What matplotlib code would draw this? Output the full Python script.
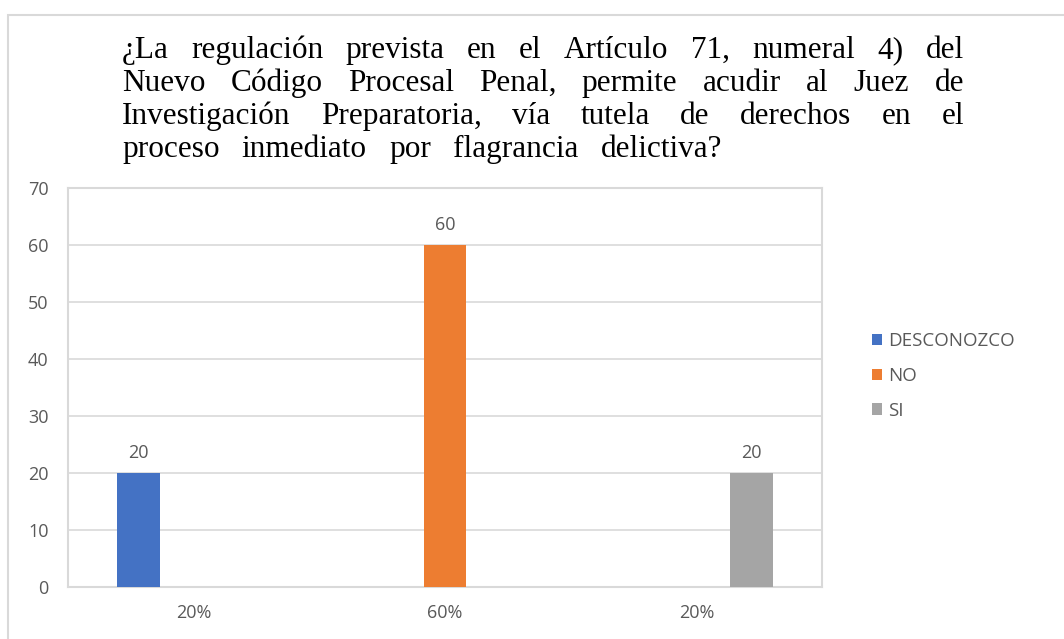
import matplotlib
matplotlib.use("Agg")
import matplotlib.pyplot as plt
import matplotlib.patches as mpatches
import numpy as np

# data
categories = ["20%", "60%", "20%"]
series_names = ["DESCONOZCO", "NO", "SI"]
desconozco = [20, 0, 0]
no_vals = [0, 60, 0]
si_vals = [0, 0, 20]
series_vals = [desconozco, no_vals, si_vals]
colors = ["#4472C4", "#ED7D31", "#A5A5A5"]

title_lines = [
    "¿La regulación prevista en el Artículo 71, numeral 4) del",
    "Nuevo Código Procesal Penal, permite acudir al Juez de",
    "Investigación Preparatoria, vía tutela de derechos en el",
    "proceso inmediato por flagrancia delictiva?",
]

W, H = 1064, 639
fig = plt.figure(figsize=(W / 100, H / 100), dpi=100)
fig.patch.set_facecolor("white")

# outer chart border (top + left visible)
fig.patches.append(mpatches.Rectangle((8 / W, -0.5), 2, 1 - 15 / H + 0.5,
                                      transform=fig.transFigure, fill=False,
                                      edgecolor="#d9d9d9", lw=1.5))

grid_c = "#d9d9d9"
txt_c = "#595959"
plt.rcParams["font.family"] = ["Open Sans", "DejaVu Sans"]

ax = fig.add_axes([68 / W, 1 - 587 / H, (822 - 68) / W, (587 - 188) / H])
x = np.arange(len(categories))
bw = 0.171
offs = [-0.219, 0.0, 0.219]
for vals, name, c, o in zip(series_vals, series_names, colors, offs):
    bars = ax.bar(x + o, vals, width=bw, color=c, label=name, lw=0, zorder=3)
    for b, v in zip(bars, vals):
        if v > 0:
            ax.annotate(f"{v}", (b.get_x() + b.get_width() / 2, v),
                        xytext=(0, 8), textcoords="offset points",
                        ha="center", va="bottom", fontsize=13, color=txt_c)

ax.set_xlim(-0.5, 2.5)
ax.set_ylim(0, 70)
ax.set_yticks(range(0, 71, 10))
ax.set_xticks(x)
ax.set_xticklabels(categories)
ax.tick_params(axis="both", length=0, labelsize=13, labelcolor=txt_c)
ax.tick_params(axis="y", pad=14)
ax.tick_params(axis="x", pad=12)
ax.grid(axis="y", color=grid_c, lw=1.2, zorder=0)
for s in ax.spines.values():
    s.set_color(grid_c)
    s.set_linewidth(1.5)

ax.legend(loc="upper left", bbox_to_anchor=(872 / W, 1 - 332 / H),
          bbox_transform=fig.transFigure, frameon=False, fontsize=13.5,
          handlelength=0.55, handleheight=0.55, handletextpad=0.3,
          labelspacing=0.9, borderpad=0, borderaxespad=0,
          labelcolor=txt_c)

# title, spread across the block width like the source document
serif = ["Liberation Serif", "DejaVu Serif"]
fsize = 22.5
left_px = 122
right_px = [964, 964, 964, 722]
baselines = [58, 91, 124, 157]
fig.canvas.draw()
rend = fig.canvas.get_renderer()
for i, line in enumerate(title_lines):
    yf = 1 - baselines[i] / H
    words = line.split(" ")
    arts = [fig.text(0, yf, w_, fontsize=fsize, family=serif, ha="left",
                     va="baseline", color="black") for w_ in words]
    widths = [a.get_window_extent(rend).width for a in arts]
    gap = (right_px[i] - left_px - sum(widths)) / (len(words) - 1)
    xp = left_px
    for a, wd in zip(arts, widths):
        a.set_x(xp / W)
        xp += wd + gap

fig.savefig("out.png", dpi=100)
